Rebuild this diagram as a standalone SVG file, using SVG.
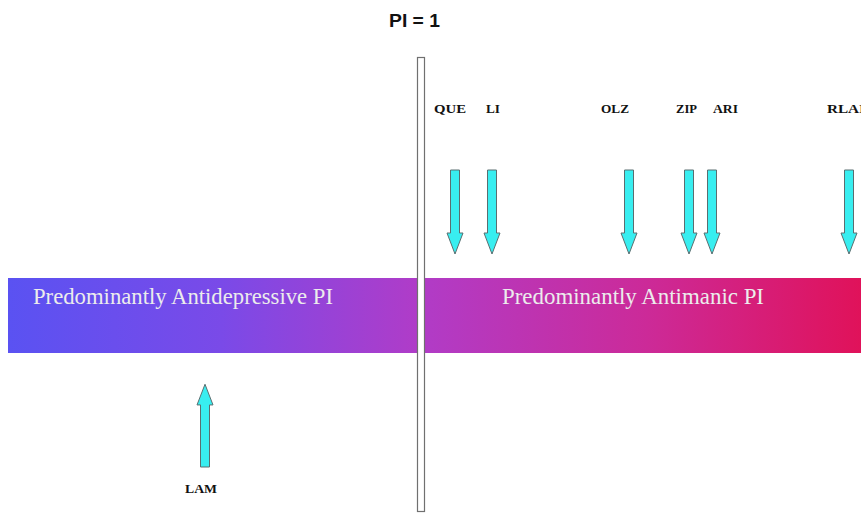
<svg xmlns="http://www.w3.org/2000/svg" width="861" height="515" viewBox="0 0 861 515">
<defs>
<linearGradient id="bar" x1="0" y1="0" x2="1" y2="0">
<stop offset="0" stop-color="#5a52f2"/>
<stop offset="0.25" stop-color="#7a4ae8"/>
<stop offset="0.48" stop-color="#b03cc8"/>
<stop offset="0.75" stop-color="#cc2a98"/>
<stop offset="1" stop-color="#e0125a"/>
</linearGradient>
<polygon id="down" points="-4.5,0 4.5,0 4.5,63 8,63 0,84 -8,63 -4.5,63"/>
</defs>
<style>
.arr{fill:#38eef0;stroke:#5a6e70;stroke-width:1}
.lbl{font-family:"Liberation Serif",serif;font-weight:bold;font-size:13.5px;fill:#111}
.bt{font-family:"Liberation Serif",serif;font-size:22.5px;fill:#ececec}
</style>
<rect width="861" height="515" fill="#fff"/>
<g id="bar-node">
<rect x="8" y="278" width="853" height="75" fill="url(#bar)"/>
<text class="bt" x="33" y="304" textLength="300" lengthAdjust="spacingAndGlyphs">Predominantly Antidepressive PI</text>
<text class="bt" x="502" y="304" textLength="262" lengthAdjust="spacingAndGlyphs">Predominantly Antimanic PI</text>
</g>
<g id="divider">
<rect x="417.5" y="57.5" width="7" height="454" fill="#fff" stroke="#707070" stroke-width="1.2"/>
<text x="389" y="27" font-family="Liberation Sans,sans-serif" font-weight="bold" font-size="17.5" fill="#111" textLength="51" lengthAdjust="spacingAndGlyphs">PI = 1</text>
</g>
<g id="connectors">
<use href="#down" class="arr" x="455" y="170"/>
<use href="#down" class="arr" x="492" y="170"/>
<use href="#down" class="arr" x="629" y="170"/>
<use href="#down" class="arr" x="689" y="170"/>
<use href="#down" class="arr" x="712" y="170"/>
<use href="#down" class="arr" x="849" y="170"/>
<use href="#down" class="arr" transform="translate(205,467) scale(1,-1) scale(1,0.985)"/>
</g>
<g id="QUE"><text class="lbl" x="434" y="113" textLength="32" lengthAdjust="spacingAndGlyphs">QUE</text></g>
<g id="LI"><text class="lbl" x="486" y="113" textLength="14" lengthAdjust="spacingAndGlyphs">LI</text></g>
<g id="OLZ"><text class="lbl" x="601" y="113" textLength="28" lengthAdjust="spacingAndGlyphs">OLZ</text></g>
<g id="ZIP"><text class="lbl" x="676" y="113" textLength="21" lengthAdjust="spacingAndGlyphs">ZIP</text></g>
<g id="ARI"><text class="lbl" x="713" y="113" textLength="25" lengthAdjust="spacingAndGlyphs">ARI</text></g>
<g id="RLAI"><text class="lbl" x="827" y="113" textLength="38" lengthAdjust="spacingAndGlyphs">RLAI</text></g>
<g id="LAM"><text class="lbl" x="185" y="493" textLength="32" lengthAdjust="spacingAndGlyphs">LAM</text></g>
</svg>
